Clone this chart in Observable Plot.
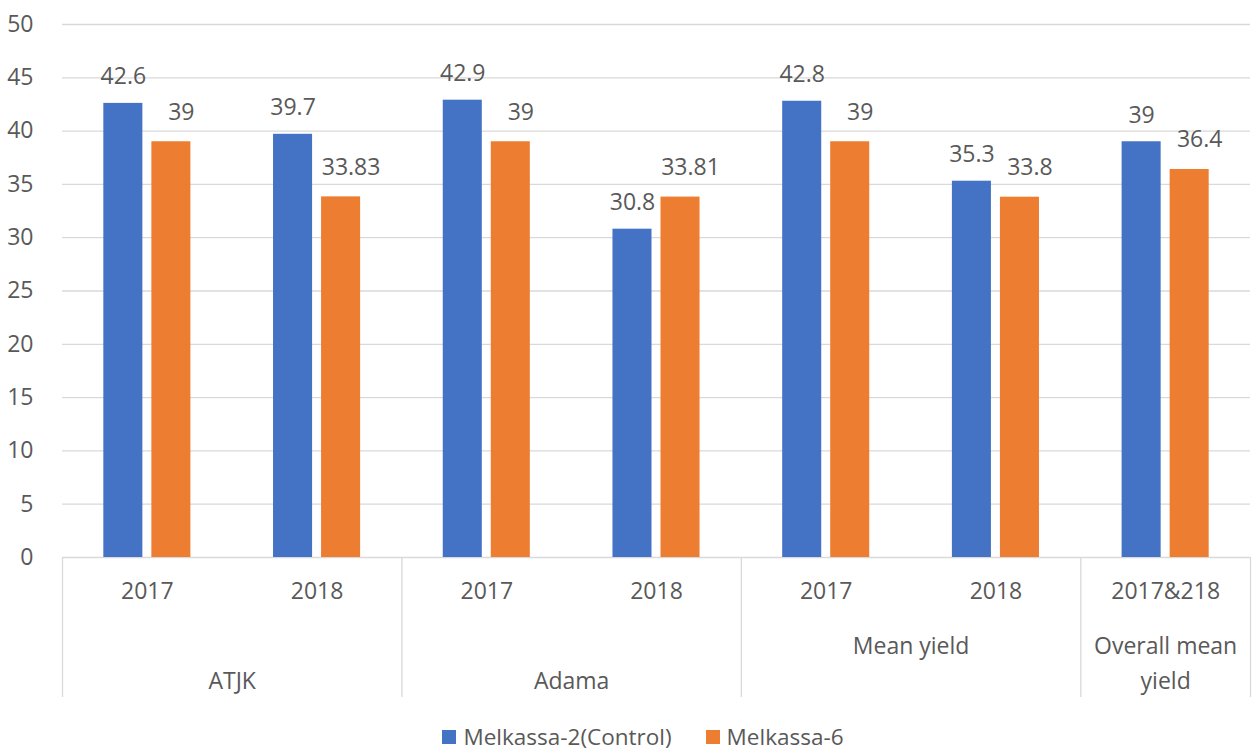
<!DOCTYPE html>
<html>
<head>
<meta charset="utf-8">
<script src="https://cdn.jsdelivr.net/npm/d3@7"></script>
<script src="https://cdn.jsdelivr.net/npm/@observablehq/plot@0.6"></script>
<style>
  body { margin: 0; background: #fff; font-family: "Open Sans", sans-serif; overflow: hidden; }
  #chart svg { display: block; }
  #legend { padding-top: 19px; padding-left: 34px; line-height: 24px; height: 24px; text-align: center; font-size: 22.5px; color: #595959; white-space: nowrap; }
  #legend .item { display: inline-flex; align-items: center; margin: 0 17px; }
  #legend .sw { width: 14px; height: 14px; margin-right: 7px; display: inline-block; }
</style>
</head>
<body>
<div id="chart"></div>
<div id="legend"></div>
<script>
// ---- data ----
const categories = ["2017", "2018", "2017", "2018", "2017", "2018", "2017&218"];
const groupNames = ["ATJK", "Adama", "Mean yield", "Overall mean\nyield"];
const groupSizes = [2, 2, 2, 1];
const seriesNames = ["Melkassa-2(Control)", "Melkassa-6"];
const melkassa2 = [42.6, 39.7, 42.9, 30.8, 42.8, 35.3, 39];
const melkassa6 = [39, 33.83, 39, 33.81, 39, 33.8, 36.4];
const yTicks = [0, 5, 10, 15, 20, 25, 30, 35, 40, 45, 50];
const seriesColors = ["#4472C4", "#ED7D31"];

// ---- layout helpers ----
const BAR = 0.23;   // bar width as fraction of a category
const GAP = 0.053;  // gap between the two bars
const rows = categories.flatMap((c, i) => [
  {i, series: seriesNames[0], v: melkassa2[i], x1: i + 0.5 - GAP / 2 - BAR, x2: i + 0.5 - GAP / 2},
  {i, series: seriesNames[1], v: melkassa6[i], x1: i + 0.5 + GAP / 2, x2: i + 0.5 + GAP / 2 + BAR}
]);
const catRows = categories.map((c, i) => ({label: c, x: i + 0.5}));
let acc = 0;
const groups = groupNames.map((g, k) => {
  const start = acc; acc += groupSizes[k];
  return {name: g, start, end: acc, x: (start + acc) / 2};
});
const boundaries = [0, ...groups.map(g => g.end)];

const W = 1252, H = 705, MT = 24, MB = 148;
const plotH = H - MT - MB;
const textColor = "#595959";
const gridColor = "#d9d9d9";

const chart = Plot.plot({
  width: W,
  height: H,
  marginLeft: 62,
  marginRight: 2,
  marginTop: MT,
  marginBottom: MB,
  style: {fontFamily: "'Open Sans', sans-serif", fontSize: "23px", color: textColor, background: "#fff"},
  x: {domain: [0, categories.length], axis: null},
  y: {domain: [0, 50], ticks: yTicks, tickSize: 0, tickPadding: 29, label: null},
  color: {domain: seriesNames, range: seriesColors},
  marks: [
    Plot.ruleY(yTicks, {stroke: gridColor, strokeWidth: 1.3}),
    Plot.ruleX(boundaries, {stroke: gridColor, strokeWidth: 1.3, insetTop: plotH, insetBottom: -140}),
    Plot.rectY(rows, {x1: "x1", x2: "x2", y: "v", fill: "series"}),
    Plot.text(rows.filter(d => d.series === seriesNames[0]), {
      x: d => (d.x1 + d.x2) / 2, y: "v", text: d => String(d.v),
      lineAnchor: "bottom", dy: -19, fill: textColor
    }),
    Plot.text(rows.filter(d => d.series === seriesNames[1]), {
      x: d => (d.x1 + d.x2) / 2, y: "v", text: d => String(d.v),
      lineAnchor: "bottom", dy: -22, dx: 10, fill: textColor
    }),
    Plot.text(catRows, {x: "x", y: () => 0, text: "label", lineAnchor: "middle", dy: 34, fill: textColor}),
    Plot.text(groups.filter(g => g.name === "Mean yield"), {x: "x", y: () => 0, text: "name", lineAnchor: "middle", dy: 89, fill: textColor}),
    Plot.text(groups.filter(g => g.name !== "Mean yield"), {x: "x", y: () => 0, text: "name", lineAnchor: "bottom", dy: 131, lineHeight: 1.48, fill: textColor})
  ]
});
document.getElementById("chart").append(chart);

const legend = document.getElementById("legend");
seriesNames.forEach((s, k) => {
  const item = document.createElement("span");
  item.className = "item";
  const sw = document.createElement("span");
  sw.className = "sw";
  sw.style.background = seriesColors[k];
  item.append(sw, document.createTextNode(s));
  legend.append(item);
});
</script>
</body>
</html>
